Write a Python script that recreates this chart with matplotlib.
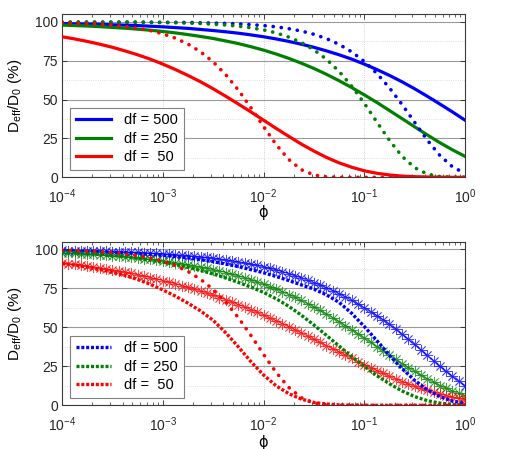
import numpy as np
import matplotlib
matplotlib.use('Agg')
import matplotlib.pyplot as plt
from matplotlib.ticker import FixedLocator, LogLocator, NullFormatter

plt.rcParams['font.family'] = ['Liberation Sans', 'DejaVu Sans']
plt.rcParams['mathtext.fontset'] = 'custom'
plt.rcParams['mathtext.rm'] = 'Liberation Sans'
plt.rcParams['mathtext.it'] = 'Liberation Sans:italic'
plt.rcParams['mathtext.default'] = 'regular'

# ---------------- data ----------------
phi_exp = [-4.0, -3.875, -3.75, -3.625, -3.5, -3.375, -3.25, -3.125,
           -3.0, -2.875, -2.75, -2.625, -2.5, -2.375, -2.25, -2.125,
           -2.0, -1.875, -1.75, -1.625, -1.5, -1.375, -1.25, -1.125,
           -1.0, -0.875, -0.75, -0.625, -0.5, -0.375, -0.25, -0.125, 0.0]
phi = 10.0 ** np.array(phi_exp)

# denser sampling used for the asterisk curves
phi_star_exp = [-4.0, -3.9375, -3.875, -3.8125, -3.75, -3.6875, -3.625, -3.5625,
                -3.5, -3.4375, -3.375, -3.3125, -3.25, -3.1875, -3.125, -3.0625,
                -3.0, -2.9375, -2.875, -2.8125, -2.75, -2.6875, -2.625, -2.5625,
                -2.5, -2.4375, -2.375, -2.3125, -2.25, -2.1875, -2.125, -2.0625,
                -2.0, -1.9375, -1.875, -1.8125, -1.75, -1.6875, -1.625, -1.5625,
                -1.5, -1.4375, -1.375, -1.3125, -1.25, -1.1875, -1.125, -1.0625,
                -1.0, -0.9375, -0.875, -0.8125, -0.75, -0.6875, -0.625, -0.5625,
                -0.5, -0.4375, -0.375, -0.3125, -0.25, -0.1875, -0.125, -0.0625, 0.0]
phi_star = 10.0 ** np.array(phi_star_exp)

labels = ['df = 500', 'df = 250', 'df =  50']

# top panel, solid lines
top_solid_500 = [99.0, 98.8, 98.7, 98.5, 98.2, 98.0, 97.7, 97.3, 96.9, 96.4, 95.9, 95.2, 94.5, 93.7, 92.8, 91.7,
                 90.5, 89.1, 87.5, 85.7, 83.7, 81.4, 78.9, 76.1, 72.9, 69.4, 65.6, 61.5, 57.0, 52.2, 47.2, 42.1, 36.8]
top_solid_250 = [98.0, 97.7, 97.4, 97.0, 96.5, 96.0, 95.4, 94.7, 93.9, 93.0, 91.9, 90.7, 89.4, 87.8, 86.1, 84.1,
                 81.9, 79.4, 76.6, 73.5, 70.1, 66.3, 62.2, 57.8, 53.1, 48.2, 43.0, 37.8, 32.5, 27.3, 22.3, 17.7, 13.5]
top_solid_50 = [90.5, 89.1, 87.5, 85.7, 83.7, 81.4, 78.9, 76.1, 72.9, 69.4, 65.6, 61.5, 57.0, 52.2, 47.2, 42.1,
                36.8, 31.5, 26.4, 21.4, 16.9, 12.8, 9.3, 6.5, 4.2, 2.6, 1.5, 0.8, 0.4, 0.2, 0.1, 0.0, 0.0]

# top panel, dotted lines
top_dot_500 = [99.9, 99.9, 99.9, 99.9, 99.9, 99.9, 99.9, 99.9, 99.8, 99.8, 99.7, 99.5, 99.3, 99.1, 98.8, 98.3,
               97.7, 96.9, 95.7, 94.2, 92.1, 89.3, 85.6, 80.8, 74.6, 66.9, 57.6, 46.9, 35.4, 24.0, 14.1, 6.8, 2.5]
top_dot_250 = [99.9, 99.9, 99.9, 99.9, 99.9, 99.9, 99.8, 99.7, 99.6, 99.5, 99.3, 99.0, 98.6, 98.1, 97.3, 96.3,
               94.9, 93.0, 90.3, 86.8, 82.1, 76.0, 68.2, 58.7, 47.7, 35.6, 23.8, 13.5, 6.2, 2.1, 0.5, 0.1, 0.0]
top_dot_50 = [99.4, 99.2, 98.9, 98.5, 97.9, 97.1, 96.0, 94.5, 92.4, 89.6, 85.8, 80.8, 74.3, 66.1, 56.2, 44.8,
              32.7, 21.1, 11.5, 4.9, 1.5, 0.3, 0.0, 0.0, 0.0, 0.0, 0.0, 0.0, 0.0, 0.0, 0.0, 0.0, 0.0]

# bottom panel, asterisk curves (on phi_star)
bot_star_500 = [99.3, 99.2, 99.2, 99.1, 99.0, 98.9, 98.8, 98.7, 98.6, 98.5, 98.3, 98.2, 98.0, 97.8, 97.6, 97.4,
                97.2, 96.9, 96.6, 96.3, 96.0, 95.6, 95.2, 94.8, 94.3, 93.8, 93.3, 92.7, 92.0, 91.3, 90.5, 89.7,
                88.8, 87.8, 86.8, 85.6, 84.4, 83.0, 81.7, 80.1, 78.6, 77.0, 75.3, 73.5, 71.5, 69.5, 67.3, 65.0,
                62.5, 60.0, 57.5, 54.8, 52.0, 48.8, 45.5, 42.3, 39.0, 35.5, 32.0, 28.5, 25.0, 21.7, 18.5, 15.5, 12.6]
bot_star_250 = [97.7, 97.5, 97.4, 97.2, 96.9, 96.7, 96.4, 96.2, 95.9, 95.6, 95.2, 94.9, 94.5, 94.1, 93.6, 93.1,
                92.6, 92.1, 91.5, 90.9, 90.2, 89.5, 88.7, 87.9, 87.0, 86.1, 85.1, 84.0, 82.9, 81.7, 80.4, 79.0,
                77.6, 76.1, 74.5, 72.8, 71.0, 69.2, 67.2, 65.2, 63.0, 60.8, 58.5, 56.1, 53.7, 51.1, 48.5, 45.9,
                43.2, 40.5, 37.7, 35.0, 32.2, 29.5, 26.8, 24.2, 21.7, 19.3, 17.0, 14.8, 12.7, 10.9, 9.1, 7.6, 6.2]
bot_star_50 = [91.3, 90.8, 90.3, 89.8, 89.3, 88.7, 88.1, 87.4, 86.7, 86.0, 85.3, 84.5, 83.7, 82.8, 81.9, 81.0,
               80.0, 79.0, 77.9, 76.8, 75.6, 74.4, 73.2, 71.9, 70.5, 69.1, 67.6, 66.1, 64.6, 63.0, 61.3, 59.6,
               57.8, 56.0, 54.2, 52.3, 50.4, 48.4, 46.4, 44.4, 42.4, 40.3, 38.3, 36.2, 34.2, 32.1, 30.1, 28.0,
               26.1, 24.1, 22.2, 20.4, 18.6, 16.9, 15.2, 13.6, 12.2, 10.8, 9.5, 8.3, 7.2, 6.1, 5.2, 4.4, 3.7]

# bottom panel, dashed curves
bot_dash_500 = [99.2, 99.0, 98.8, 98.5, 98.2, 97.8, 97.3, 96.8, 96.2, 95.4, 94.5, 93.4, 92.1, 90.6, 88.9, 87.0,
                85.0, 82.6, 80.0, 77.2, 74.5, 70.8, 66.0, 59.0, 50.5, 41.5, 32.0, 23.5, 16.0, 10.0, 5.6, 2.7, 1.2]
bot_dash_250 = [98.2, 97.8, 97.3, 96.7, 96.0, 95.2, 94.2, 93.1, 91.8, 90.3, 88.5, 86.5, 84.2, 81.6, 78.8, 75.8,
                72.4, 68.3, 63.5, 57.8, 51.5, 44.8, 38.0, 31.3, 25.0, 19.0, 13.8, 9.2, 5.6, 3.0, 1.4, 0.6, 0.2]
bot_dash_50 = [91.0, 89.9, 88.6, 87.1, 85.3, 83.2, 80.7, 77.6, 74.0, 70.0, 65.5, 60.5, 54.5, 46.5, 37.5, 28.0,
               19.5, 12.5, 7.5, 4.0, 1.8, 0.8, 0.3, 0.1, 0.0, 0.0, 0.0, 0.0, 0.0, 0.0, 0.0, 0.0, 0.0]

# bottom panel, sparse red dotted curve (same as top)
bot_dot_50 = top_dot_50

colors = ['#0000ff', '#008000', '#ff0000']
yticks = [0, 25, 50, 75, 100]
yminor = [12.5, 37.5, 62.5, 87.5]

# ---------------- figure ----------------
fig = plt.figure(figsize=(5.09, 4.49), dpi=100)
ax1 = fig.add_axes([0.1218, 0.6051, 0.7918, 0.3632])
ax2 = fig.add_axes([0.1218, 0.0973, 0.7918, 0.3648])

dot_style = dict(linestyle=(0, (0.05, 2.2)), dash_capstyle='round', linewidth=2.6)
dash_style = dict(linestyle=(0, (0.9, 0.55)), dash_capstyle='butt', linewidth=2.4)

# top
solids = [top_solid_500, top_solid_250, top_solid_50]
dots = [top_dot_500, top_dot_250, top_dot_50]
handles1 = []
for s, c, lab in zip(solids, colors, labels):
    h, = ax1.plot(phi, s, color=c, lw=2.3, label=lab, zorder=3)
    handles1.append(h)
for d, c in zip(dots, colors):
    ax1.plot(phi, d, color=c, zorder=4, **dot_style)

# bottom
stars = [bot_star_500, bot_star_250, bot_star_50]
dashes = [bot_dash_500, bot_dash_250, bot_dash_50]
for s, c in zip(stars, colors):
    ax2.plot(phi_star, s, color=c, lw=0.9, alpha=0.72, marker=(8, 2, 0), ms=8, mew=0.6, zorder=3)
handles2 = []
for d, c, lab in zip(dashes, colors, labels):
    h, = ax2.plot(phi, d, color=c, label=lab, zorder=4, **dash_style)
    handles2.append(h)
ax2.plot(phi, bot_dot_50, color=colors[2], zorder=4, **dot_style)

for ax, handles, lab_y in ((ax1, handles1, -0.17), (ax2, handles2, -0.18)):
    ax.set_xscale('log')
    ax.set_xlim(1e-4, 1)
    ax.set_ylim(0, 105)
    ax.yaxis.set_major_locator(FixedLocator(yticks))
    ax.yaxis.set_minor_locator(FixedLocator(yminor))
    ax.xaxis.set_major_locator(LogLocator(base=10, numticks=10))
    ax.xaxis.set_minor_locator(LogLocator(base=10, subs=np.arange(2, 10), numticks=20))
    ax.xaxis.set_minor_formatter(NullFormatter())
    ax.tick_params(which='both', direction='in', top=True, right=True, labelsize=10, colors='#262626')
    ax.tick_params(which='major', length=3.5, width=0.6)
    ax.tick_params(which='minor', length=2, width=0.5)
    ax.tick_params(axis='y', which='minor', length=0)
    ax.tick_params(axis='x', which='major', pad=7)
    ax.tick_params(axis='y', which='major', pad=3)
    ax.grid(axis='y', which='major', color='#9a9a9a', lw=0.8, ls='-', zorder=0)
    ax.grid(axis='y', which='minor', color='#d4d4d4', lw=0.6, ls=':', zorder=0)
    ax.grid(axis='x', which='major', color='#c4c4c4', lw=0.6, ls=':', zorder=0)
    ax.set_axisbelow(True)
    for sp in ax.spines.values():
        sp.set_color('#3a3a3a')
        sp.set_linewidth(0.8)
    ax.set_ylabel(r'D$_{\rm eff}$/D$_0$ (%)', fontsize=11)
    ax.yaxis.set_label_coords(-0.095, 0.5)
    ax.set_xlabel('\u03d5', fontsize=10.5, family=['DejaVu Sans'])
    ax.xaxis.set_label_coords(0.5, lab_y)
    leg = ax.legend(handles=handles, loc='lower left', bbox_to_anchor=(0.02, 0.045),
                    borderaxespad=0, fontsize=10.5, frameon=True, fancybox=False,
                    framealpha=1, edgecolor='#808080', handlelength=2.4,
                    handletextpad=0.9, labelspacing=0.3, borderpad=0.4)
    leg.get_frame().set_linewidth(0.8)

fig.savefig('out.png', dpi=100)
